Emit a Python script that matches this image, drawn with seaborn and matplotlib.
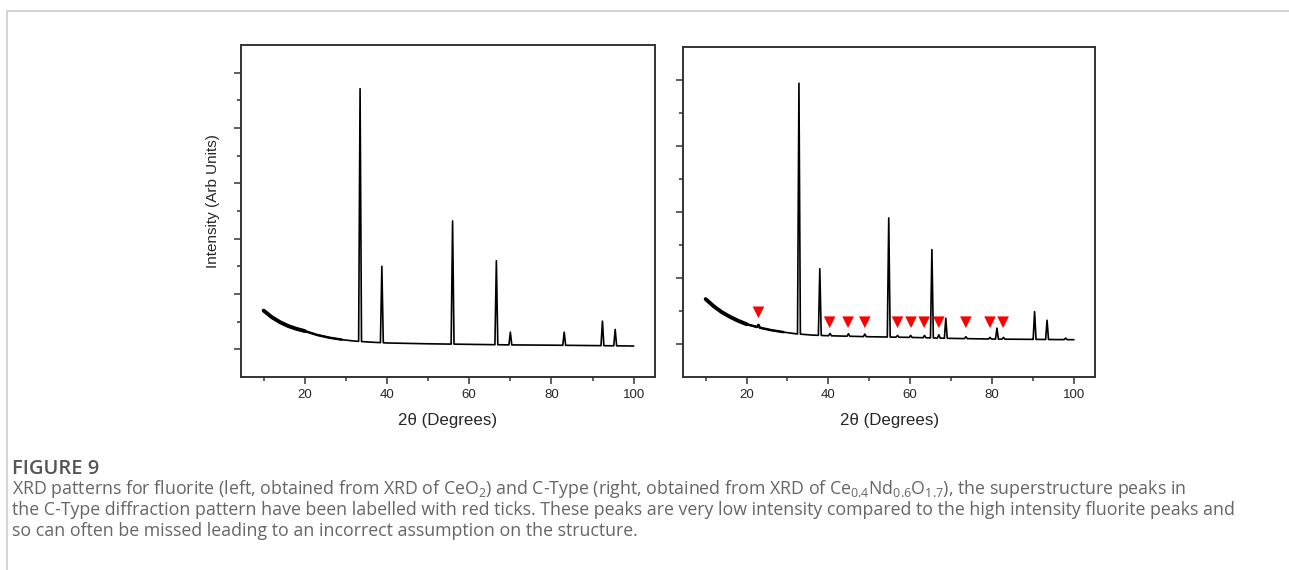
import numpy as np
import pandas as pd
import matplotlib
matplotlib.use("Agg")
import matplotlib.pyplot as plt
from matplotlib.lines import Line2D
import seaborn as sns

# --- data (arbitrary intensity units) ---
# left: fluorite (CeO2)
left_base_x = [10, 12, 14, 16, 18, 20, 23, 26, 29, 32, 36, 40, 50, 60, 70, 80, 90, 100]
left_base_y = [0.70, 0.58, 0.49, 0.42, 0.37, 0.33, 0.26, 0.21, 0.175, 0.15, 0.13, 0.115,
               0.10, 0.09, 0.08, 0.075, 0.068, 0.06]
left_peak_pos = [33.45, 38.75, 55.95, 66.6, 70.0, 83.1, 92.4, 95.5]
left_peak_top = [4.71, 1.50, 2.32, 1.60, 0.31, 0.31, 0.51, 0.36]

# right: C-type (Ce0.4Nd0.6O1.7)
right_base_x = [10, 12, 14, 16, 18, 20, 23, 26, 29, 32, 36, 40, 50, 60, 70, 80, 90, 100]
right_base_y = [0.68, 0.57, 0.48, 0.41, 0.35, 0.30, 0.25, 0.21, 0.18, 0.155, 0.135, 0.125,
                0.11, 0.10, 0.085, 0.075, 0.07, 0.065]
right_peak_pos = [22.9, 32.8, 37.9, 40.4, 44.9, 48.9, 54.75, 56.9, 60.1, 63.5, 65.3,
                  67.0, 68.7, 73.6, 79.5, 81.2, 82.8, 90.4, 93.45, 98.0]
right_peak_top = [0.29, 3.95, 1.14, 0.16, 0.155, 0.15, 1.91, 0.13, 0.13, 0.13, 1.43,
                  0.14, 0.39, 0.11, 0.10, 0.24, 0.10, 0.49, 0.36, 0.09]

# superstructure markers (red ticks)
marker_pos = [22.9, 40.3, 44.8, 48.9, 56.9, 60.2, 63.4, 67.0, 73.6, 79.5, 82.7]
marker_y = [0.48, 0.33, 0.33, 0.33, 0.33, 0.33, 0.33, 0.33, 0.33, 0.33, 0.33]

caption_title = "FIGURE 9"
caption_lines = [
    "XRD patterns for fluorite (left, obtained from XRD of CeO$_2$) and C-Type (right, obtained from XRD of "
    "Ce$_{0.4}$Nd$_{0.6}$O$_{1.7}$), the superstructure peaks in",
    "the C-Type diffraction pattern have been labelled with red ticks. These peaks are very low intensity "
    "compared to the high intensity fluorite peaks and",
    "so can often be missed leading to an incorrect assumption on the structure.",
]


def trace(bx, by, pos, top, hw=0.35):
    # baseline vertices plus a sharp triangle for each reflection
    xs = list(bx)
    ys = list(by)
    for p, t in zip(pos, top):
        keep = [(x, y) for x, y in zip(xs, ys) if not (p - hw < x < p + hw)]
        xs = [k[0] for k in keep]
        ys = [k[1] for k in keep]
        xs += [p - hw, p, p + hw]
        ys += [np.interp(p - hw, bx, by), t, np.interp(p + hw, bx, by)]
    df = pd.DataFrame({"x": xs, "y": ys}).sort_values("x")
    return df


sns.set_style("white")
plt.rcParams["font.family"] = ["Liberation Sans", "DejaVu Sans"]
plt.rcParams["mathtext.default"] = "regular"

fig = plt.figure(figsize=(12.89, 5.70), dpi=100)
ax1 = fig.add_axes([0.187, 0.3386, 0.3212, 0.5825])
ax2 = fig.add_axes([0.530, 0.3386, 0.3196, 0.579])

spine_col = "#333333"
for ax, (bx, by, pos, top), ylim in [
    (ax1, (left_base_x, left_base_y, left_peak_pos, left_peak_top), (-0.5, 5.5)),
    (ax2, (right_base_x, right_base_y, right_peak_pos, right_peak_top), (-0.5, 4.5)),
]:
    df = trace(bx, by, pos, top)
    sns.lineplot(data=df, x="x", y="y", ax=ax, color="black", lw=1.2,
                 estimator=None, sort=False)
    # thicker, noisy-looking low angle region
    sns.lineplot(data=df[df["x"] <= 30], x="x", y="y", ax=ax, color="black", lw=1.8,
                 estimator=None, sort=False)
    sns.lineplot(data=df[df["x"] <= 20], x="x", y="y", ax=ax, color="black", lw=2.8,
                 estimator=None, sort=False)
    ax.set_xlim(4.5, 105.2)
    ax.set_ylim(*ylim)
    ax.set_xticks([20, 40, 60, 80, 100])
    ax.set_xticks([10, 30, 50, 70, 90], minor=True)
    ax.set_yticks(np.arange(0, ylim[1]))
    ax.set_yticks(np.arange(0.5, ylim[1], 1.0), minor=True)
    ax.set_yticklabels([])
    ax.tick_params(axis="both", which="major", direction="out", length=5, width=1.1,
                   color=spine_col, labelsize=9.5, pad=4, bottom=True, left=True)
    ax.tick_params(axis="both", which="minor", direction="out", length=3, width=1.1,
                   color=spine_col, bottom=True, left=True)
    for s in ax.spines.values():
        s.set_visible(True)
        s.set_color(spine_col)
        s.set_linewidth(1.4)
    ax.set_xlabel("2θ (Degrees)", fontsize=12.2, labelpad=8)
    ax.set_ylabel("")

ax1.set_ylabel("Intensity (Arb Units)", fontsize=11)
ax1.yaxis.set_label_coords(-0.05, 0.53)

sns.scatterplot(x=marker_pos, y=marker_y, ax=ax2, marker="v", color="#ff0000",
                s=70, edgecolor="none", zorder=5)

# page frame
fig.add_artist(Line2D([7 / 1289, 1], [1 - 11 / 570, 1 - 11 / 570], color="#d4d4d4", lw=1.5))
fig.add_artist(Line2D([7 / 1289, 7 / 1289], [0, 1 - 11 / 570], color="#d4d4d4", lw=1.5))

# caption
fig.text(12 / 1289, 1 - 474 / 570, caption_title, fontsize=14.5, color="#555555",
         family=["Open Sans", "DejaVu Sans"], weight="semibold", va="baseline")
for i, line in enumerate(caption_lines):
    fig.text(12 / 1289, 1 - (494 + 21 * i) / 570, line, fontsize=12.8, color="#666666",
             family=["Open Sans", "DejaVu Sans"], va="baseline")

plt.savefig("out.png", dpi=100)
